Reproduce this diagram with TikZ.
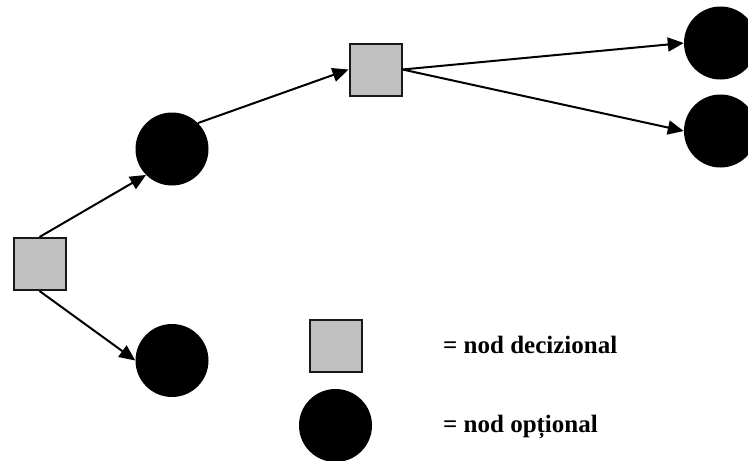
\documentclass[tikz,border=0pt]{standalone}
\usepackage{fontspec}
\setmainfont{Liberation Serif}
\usetikzlibrary{arrows.meta, positioning}
\definecolor{decgray}{RGB}{192,192,192}

\begin{document}
\begin{tikzpicture}[x=1pt, y=-1pt,
  decnode/.style={draw=black!90, line width=2pt, fill=decgray, minimum size=52pt, inner sep=0pt},
  optnode/.style={circle, fill=black, minimum size=73pt, inner sep=0pt},
  link/.style={-{Triangle[length=16pt,width=14pt]}, line width=2pt},
  legend/.style={font=\fontsize{25}{30}\selectfont\bfseries, anchor=base west, inner sep=0pt}]
  \useasboundingbox (0,0) rectangle (748,461);

  % tree
  \node[decnode] (d1) at (39.5,264) {};
  \node[optnode] (o1) at (172,149) {};
  \node[optnode] (o2) at (172,360.5) {};
  \node[decnode] (d2) at (375.5,69.5) {};
  \node[optnode] (o3) at (720.5,43) {};
  \node[optnode] (o4) at (720.5,131) {};

  \draw[link] (d1.north) -- (o1.south west);
  \draw[link] (d1.south) -- (o2.west);
  \draw[link] (o1.north east) -- (d2.west);
  \draw[link] (d2.east) -- (o3.west);
  \draw[link] (d2.east) -- (o4.west);

  % legend
  \node[decnode] (kd) at (335.5,346) {};
  \node[optnode] (ko) at (335.5,425.5) {};
  \node[legend] (kdtext) at (443,353) {= nod decizional};
  \node[legend] (kotext) at (443,432) {= nod opțional};
\end{tikzpicture}
\end{document}
